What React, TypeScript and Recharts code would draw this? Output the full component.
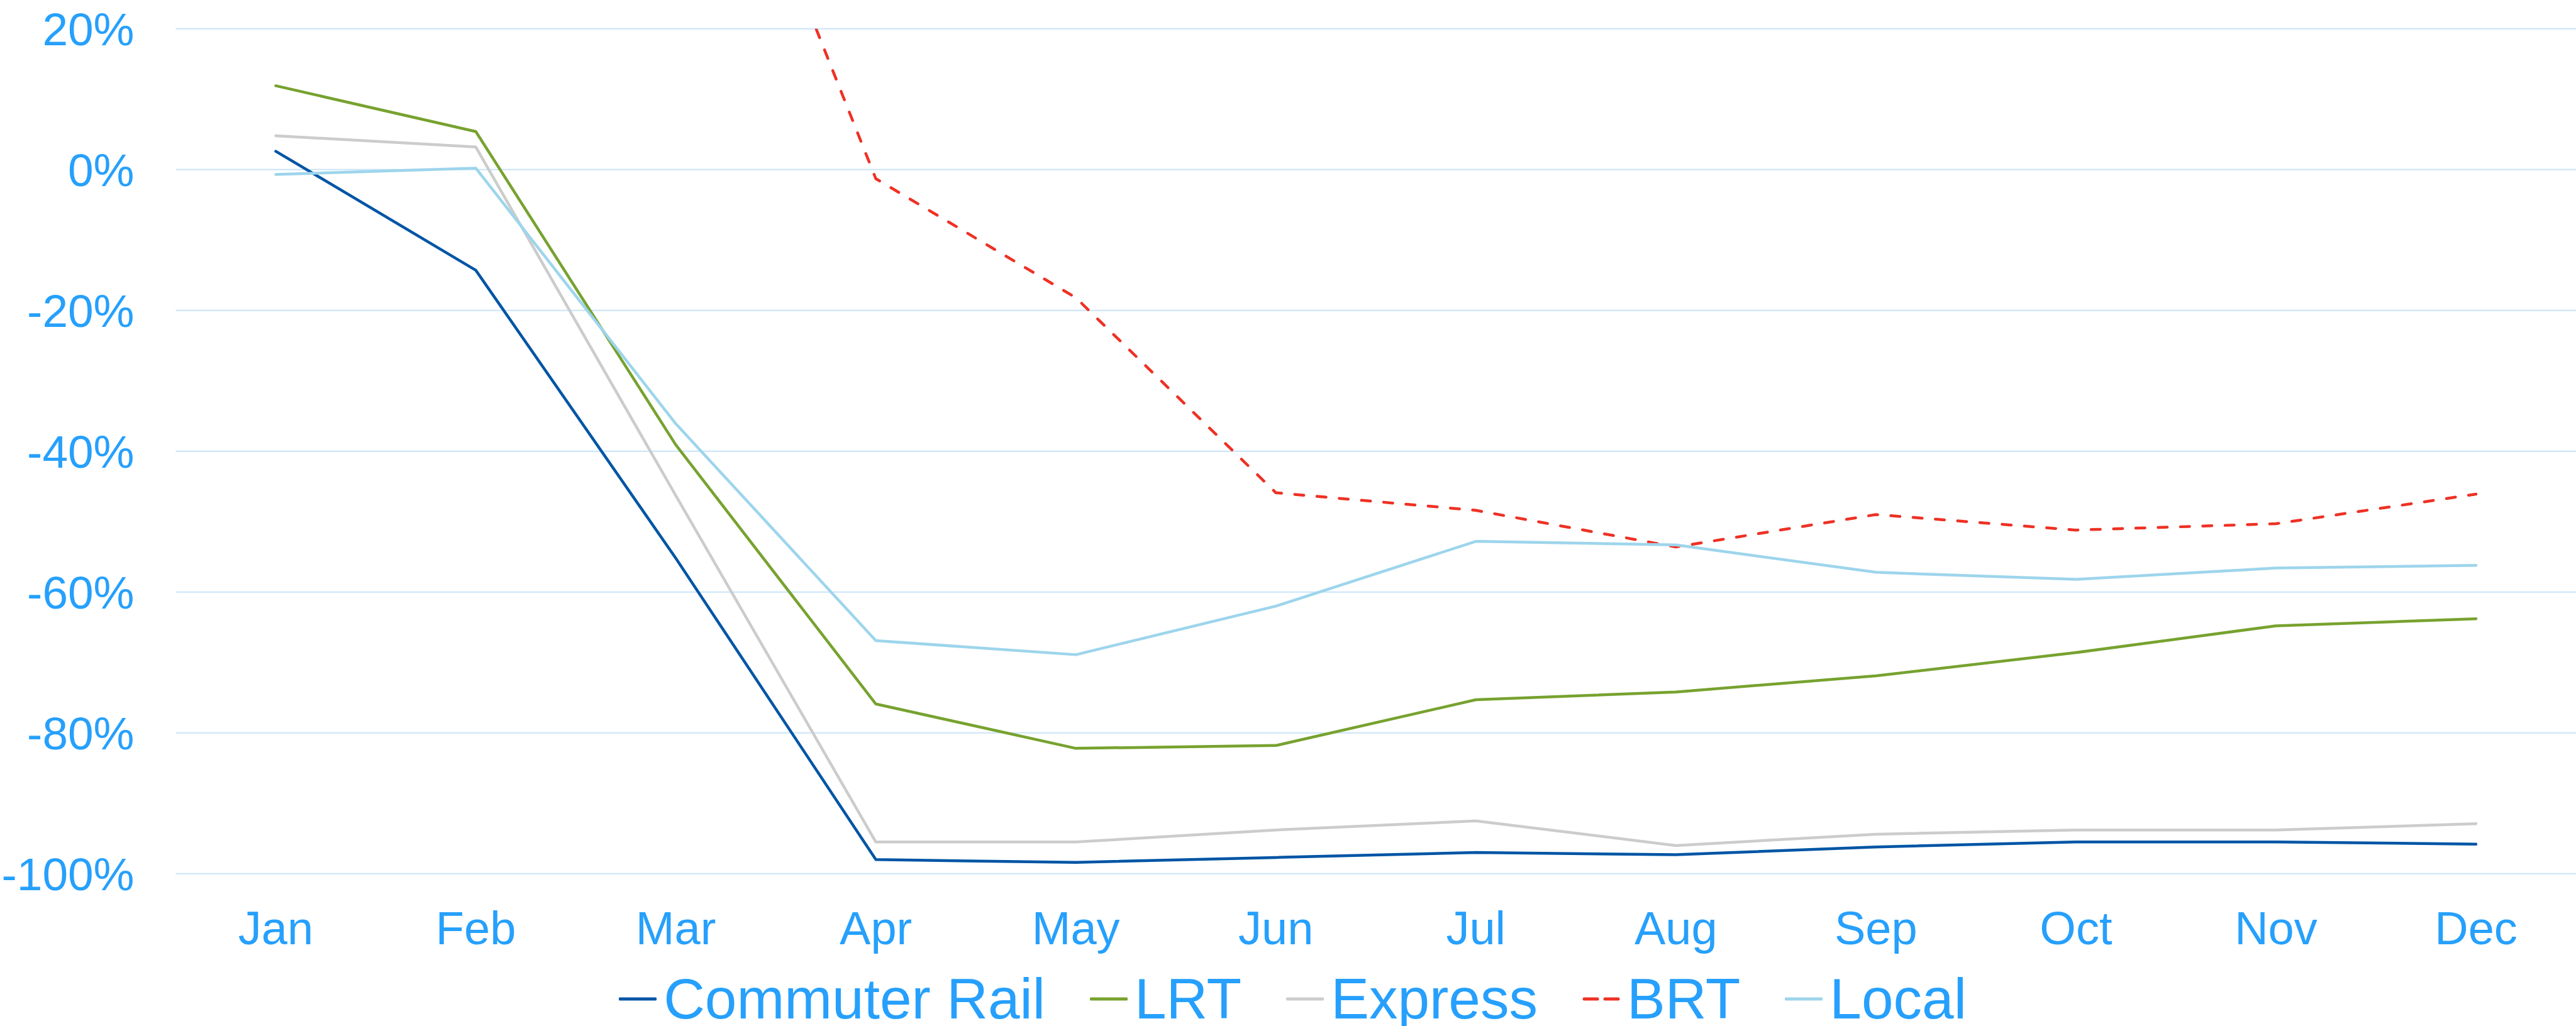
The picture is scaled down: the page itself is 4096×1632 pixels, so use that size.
import React from 'react'
import { LineChart, Line, XAxis, YAxis, CartesianGrid, Legend } from 'recharts'

const months = ['Jan', 'Feb', 'Mar', 'Apr', 'May', 'Jun', 'Jul', 'Aug', 'Sep', 'Oct', 'Nov', 'Dec']

// percent change vs prior year
const commuterRail = [2.6, -14.3, -55.2, -98.0, -98.4, -97.7, -97.0, -97.3, -96.2, -95.5, -95.5, -95.8]
const lrt = [11.9, 5.4, -39.1, -75.9, -82.2, -81.8, -75.3, -74.2, -71.9, -68.6, -64.8, -63.8]
const express = [4.8, 3.2, -46.3, -95.5, -95.5, -93.8, -92.5, -96.0, -94.4, -93.8, -93.8, -92.9]
const brt = [null, null, 70, -1.3, -18.2, -45.9, -48.4, -53.6, -49.0, -51.2, -50.3, -46.1]
const local = [-0.7, 0.2, -36.1, -66.9, -68.9, -62.0, -52.8, -53.3, -57.2, -58.2, -56.6, -56.2]

const yTicks = [20, 0, -20, -40, -60, -80, -100]

const series = [
  { key: 'commuterRail', name: 'Commuter Rail', color: '#0055A5', values: commuterRail },
  { key: 'lrt', name: 'LRT', color: '#77A22F', values: lrt },
  { key: 'express', name: 'Express', color: '#CCCCCC', values: express },
  { key: 'brt', name: 'BRT', color: '#EE3124', values: brt, dash: '14.5 21' },
  { key: 'local', name: 'Local', color: '#9DD5EC', values: local },
]

const data = months.map((m, i) => {
  const row: Record<string, any> = { month: m }
  series.forEach(s => { row[s.key] = s.values[i] })
  return row
})

const FONT = '"Liberation Sans", Arial, Helvetica, sans-serif'
const TEXT = '#26A0FC'
const GRID = '#C8E4FA'

// legend keeps the series order (recharts would sort it by name)
function LegendContent() {
  return (
    <div style={{
      display: 'flex', justifyContent: 'center', alignItems: 'center',
      paddingLeft: 15, fontFamily: FONT, fontSize: 91, lineHeight: '91px', color: TEXT,
    }}>
      {series.map((s, i) => (
        <div key={s.key} style={{ display: 'flex', alignItems: 'center', marginRight: i < series.length - 1 ? 71 : 0 }}>
          <svg width={60} height={12} style={{ display: 'block' }}>
            {s.dash ? (
              <>
                <line x1={3} y1={6} x2={24} y2={6} stroke={s.color} strokeWidth={5} strokeLinecap="round" />
                <line x1={36} y1={6} x2={57} y2={6} stroke={s.color} strokeWidth={5} strokeLinecap="round" />
              </>
            ) : (
              <line x1={2} y1={6} x2={58} y2={6} stroke={s.color} strokeWidth={5} strokeLinecap="round" />
            )}
          </svg>
          <span style={{ marginLeft: 11, whiteSpace: 'nowrap' }}>{s.name}</span>
        </div>
      ))}
    </div>
  )
}

export default function App() {
  return (
    <div style={{ position: 'absolute', left: 0, top: 0, width: 4096, height: 1632, background: '#fff' }}>
      <LineChart
        width={4096}
        height={1632}
        data={data}
        margin={{ top: 45.7, right: 0, bottom: 182.3, left: 0 }}
      >
        <CartesianGrid horizontal vertical={false} stroke={GRID} strokeWidth={2} />
        <XAxis
          dataKey="month"
          height={60}
          padding={{ left: 159, right: 159 }}
          axisLine={false}
          tickLine={false}
          tickSize={0}
          tickMargin={59.6}
          interval={0}
          tick={{ fill: TEXT, fontSize: 74, fontFamily: FONT }}
        />
        <YAxis
          width={279.5}
          domain={[-100, 20]}
          ticks={yTicks}
          allowDataOverflow
          axisLine={false}
          tickLine={false}
          tickSize={0}
          tickMargin={66}
          tickFormatter={(v: number) => `${v}%`}
          tick={{ fill: TEXT, fontSize: 73, fontFamily: FONT }}
        />
        <Legend
          verticalAlign="middle"
          align="center"
          layout="horizontal"
          wrapperStyle={{ top: 1543, left: 0, width: 4096 }}
          content={<LegendContent />}
        />
        {series.map(s => (
          <Line
            key={s.key}
            type="linear"
            dataKey={s.key}
            name={s.name}
            stroke={s.color}
            strokeWidth={4.5}
            strokeDasharray={s.dash}
            strokeLinecap="round"
            strokeLinejoin="round"
            dot={false}
            activeDot={false}
            connectNulls={false}
            isAnimationActive={false}
          />
        ))}
      </LineChart>
    </div>
  )
}
